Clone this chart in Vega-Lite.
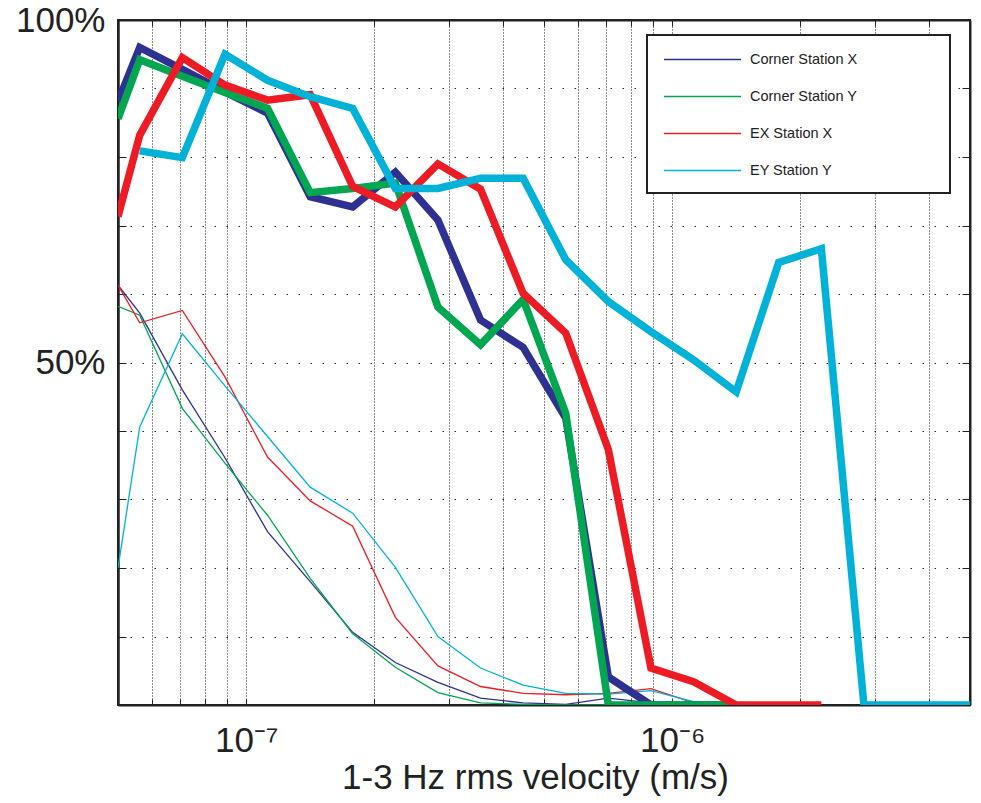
{
  "$schema": "https://vega.github.io/schema/vega-lite/v6.json",
  "autosize": "none",
  "width": 852,
  "height": 685,
  "padding": {"left": 118, "top": 20, "right": 11, "bottom": 98},
  "background": "white",
  "config": {
    "font": "Liberation Sans",
    "view": {"stroke": "#222", "strokeWidth": 2},
    "legend": {
      "labelFont": "Liberation Sans",
      "labelFontSize": 14.5,
      "labelColor": "#222",
      "symbolType": "M-5,0H5M29.6,0L29.6,0",
      "symbolStrokeWidth": 1.6,
      "strokeColor": "#222",
      "strokeWidth": 2,
      "fillColor": "white",
      "padding": 16,
      "rowPadding": 22,
      "labelOffset": 39,
      "symbolOffset": 31
    }
  },
  "data": {
    "values": [
      {"s": "Corner Station X", "w": "thin", "v": 5e-8, "p": 0.613},
      {"s": "Corner Station X", "w": "thin", "v": 5.623e-8, "p": 0.572},
      {"s": "Corner Station X", "w": "thin", "v": 7.079e-8, "p": 0.460},
      {"s": "Corner Station X", "w": "thin", "v": 8.913e-8, "p": 0.361},
      {"s": "Corner Station X", "w": "thin", "v": 1.122e-7, "p": 0.253},
      {"s": "Corner Station X", "w": "thin", "v": 1.413e-7, "p": 0.180},
      {"s": "Corner Station X", "w": "thin", "v": 1.778e-7, "p": 0.106},
      {"s": "Corner Station X", "w": "thin", "v": 2.239e-7, "p": 0.062},
      {"s": "Corner Station X", "w": "thin", "v": 2.818e-7, "p": 0.033},
      {"s": "Corner Station X", "w": "thin", "v": 3.548e-7, "p": 0.010},
      {"s": "Corner Station X", "w": "thin", "v": 4.467e-7, "p": 0.003},
      {"s": "Corner Station X", "w": "thin", "v": 5.623e-7, "p": 0.001},
      {"s": "Corner Station X", "w": "thin", "v": 7.079e-7, "p": 0.010},
      {"s": "Corner Station X", "w": "thin", "v": 8.913e-7, "p": 0.003},
      {"s": "Corner Station X", "w": "thin", "v": 1.122e-6, "p": 0},
      {"s": "Corner Station X", "w": "thin", "v": 1.413e-6, "p": 0},

      {"s": "Corner Station Y", "w": "thin", "v": 5e-8, "p": 0.582},
      {"s": "Corner Station Y", "w": "thin", "v": 5.623e-8, "p": 0.569},
      {"s": "Corner Station Y", "w": "thin", "v": 7.079e-8, "p": 0.433},
      {"s": "Corner Station Y", "w": "thin", "v": 8.913e-8, "p": 0.353},
      {"s": "Corner Station Y", "w": "thin", "v": 1.122e-7, "p": 0.277},
      {"s": "Corner Station Y", "w": "thin", "v": 1.413e-7, "p": 0.185},
      {"s": "Corner Station Y", "w": "thin", "v": 1.778e-7, "p": 0.104},
      {"s": "Corner Station Y", "w": "thin", "v": 2.239e-7, "p": 0.055},
      {"s": "Corner Station Y", "w": "thin", "v": 2.818e-7, "p": 0.018},
      {"s": "Corner Station Y", "w": "thin", "v": 3.548e-7, "p": 0.003},
      {"s": "Corner Station Y", "w": "thin", "v": 4.467e-7, "p": 0.001},
      {"s": "Corner Station Y", "w": "thin", "v": 5.623e-7, "p": 0},
      {"s": "Corner Station Y", "w": "thin", "v": 7.079e-7, "p": 0},
      {"s": "Corner Station Y", "w": "thin", "v": 8.913e-7, "p": 0},
      {"s": "Corner Station Y", "w": "thin", "v": 1.122e-6, "p": 0},
      {"s": "Corner Station Y", "w": "thin", "v": 1.413e-6, "p": 0},

      {"s": "EX Station X", "w": "thin", "v": 5e-8, "p": 0.613},
      {"s": "EX Station X", "w": "thin", "v": 5.623e-8, "p": 0.558},
      {"s": "EX Station X", "w": "thin", "v": 7.079e-8, "p": 0.576},
      {"s": "EX Station X", "w": "thin", "v": 8.913e-8, "p": 0.479},
      {"s": "EX Station X", "w": "thin", "v": 1.122e-7, "p": 0.362},
      {"s": "EX Station X", "w": "thin", "v": 1.413e-7, "p": 0.298},
      {"s": "EX Station X", "w": "thin", "v": 1.778e-7, "p": 0.261},
      {"s": "EX Station X", "w": "thin", "v": 2.239e-7, "p": 0.128},
      {"s": "EX Station X", "w": "thin", "v": 2.818e-7, "p": 0.057},
      {"s": "EX Station X", "w": "thin", "v": 3.548e-7, "p": 0.027},
      {"s": "EX Station X", "w": "thin", "v": 4.467e-7, "p": 0.017},
      {"s": "EX Station X", "w": "thin", "v": 5.623e-7, "p": 0.015},
      {"s": "EX Station X", "w": "thin", "v": 7.079e-7, "p": 0.017},
      {"s": "EX Station X", "w": "thin", "v": 8.913e-7, "p": 0.024},
      {"s": "EX Station X", "w": "thin", "v": 1.122e-6, "p": 0.003},
      {"s": "EX Station X", "w": "thin", "v": 1.413e-6, "p": 0},

      {"s": "EY Station Y", "w": "thin", "v": 5e-8, "p": 0.200},
      {"s": "EY Station Y", "w": "thin", "v": 5.623e-8, "p": 0.406},
      {"s": "EY Station Y", "w": "thin", "v": 7.079e-8, "p": 0.542},
      {"s": "EY Station Y", "w": "thin", "v": 8.913e-8, "p": 0.466},
      {"s": "EY Station Y", "w": "thin", "v": 1.122e-7, "p": 0.392},
      {"s": "EY Station Y", "w": "thin", "v": 1.413e-7, "p": 0.318},
      {"s": "EY Station Y", "w": "thin", "v": 1.778e-7, "p": 0.280},
      {"s": "EY Station Y", "w": "thin", "v": 2.239e-7, "p": 0.201},
      {"s": "EY Station Y", "w": "thin", "v": 2.818e-7, "p": 0.100},
      {"s": "EY Station Y", "w": "thin", "v": 3.548e-7, "p": 0.054},
      {"s": "EY Station Y", "w": "thin", "v": 4.467e-7, "p": 0.029},
      {"s": "EY Station Y", "w": "thin", "v": 5.623e-7, "p": 0.017},
      {"s": "EY Station Y", "w": "thin", "v": 7.079e-7, "p": 0.016},
      {"s": "EY Station Y", "w": "thin", "v": 8.913e-7, "p": 0.021},
      {"s": "EY Station Y", "w": "thin", "v": 1.122e-6, "p": 0.005},
      {"s": "EY Station Y", "w": "thin", "v": 1.413e-6, "p": 0},

      {"s": "Corner Station X", "w": "thick", "v": 5e-8, "p": 0.881},
      {"s": "Corner Station X", "w": "thick", "v": 5.623e-8, "p": 0.960},
      {"s": "Corner Station X", "w": "thick", "v": 7.079e-8, "p": 0.928},
      {"s": "Corner Station X", "w": "thick", "v": 8.913e-8, "p": 0.895},
      {"s": "Corner Station X", "w": "thick", "v": 1.122e-7, "p": 0.864},
      {"s": "Corner Station X", "w": "thick", "v": 1.413e-7, "p": 0.742},
      {"s": "Corner Station X", "w": "thick", "v": 1.778e-7, "p": 0.727},
      {"s": "Corner Station X", "w": "thick", "v": 2.239e-7, "p": 0.778},
      {"s": "Corner Station X", "w": "thick", "v": 2.818e-7, "p": 0.708},
      {"s": "Corner Station X", "w": "thick", "v": 3.548e-7, "p": 0.562},
      {"s": "Corner Station X", "w": "thick", "v": 4.467e-7, "p": 0.522},
      {"s": "Corner Station X", "w": "thick", "v": 5.623e-7, "p": 0.419},
      {"s": "Corner Station X", "w": "thick", "v": 7.079e-7, "p": 0.041},
      {"s": "Corner Station X", "w": "thick", "v": 8.913e-7, "p": 0},
      {"s": "Corner Station X", "w": "thick", "v": 1.122e-6, "p": 0},
      {"s": "Corner Station X", "w": "thick", "v": 1.413e-6, "p": 0},

      {"s": "Corner Station Y", "w": "thick", "v": 5e-8, "p": 0.856},
      {"s": "Corner Station Y", "w": "thick", "v": 5.623e-8, "p": 0.942},
      {"s": "Corner Station Y", "w": "thick", "v": 7.079e-8, "p": 0.918},
      {"s": "Corner Station Y", "w": "thick", "v": 8.913e-8, "p": 0.894},
      {"s": "Corner Station Y", "w": "thick", "v": 1.122e-7, "p": 0.871},
      {"s": "Corner Station Y", "w": "thick", "v": 1.413e-7, "p": 0.748},
      {"s": "Corner Station Y", "w": "thick", "v": 1.778e-7, "p": 0.754},
      {"s": "Corner Station Y", "w": "thick", "v": 2.239e-7, "p": 0.762},
      {"s": "Corner Station Y", "w": "thick", "v": 2.818e-7, "p": 0.581},
      {"s": "Corner Station Y", "w": "thick", "v": 3.548e-7, "p": 0.526},
      {"s": "Corner Station Y", "w": "thick", "v": 4.467e-7, "p": 0.592},
      {"s": "Corner Station Y", "w": "thick", "v": 5.623e-7, "p": 0.426},
      {"s": "Corner Station Y", "w": "thick", "v": 7.079e-7, "p": 0},
      {"s": "Corner Station Y", "w": "thick", "v": 8.913e-7, "p": 0},
      {"s": "Corner Station Y", "w": "thick", "v": 1.122e-6, "p": 0},
      {"s": "Corner Station Y", "w": "thick", "v": 1.413e-6, "p": 0},

      {"s": "EX Station X", "w": "thick", "v": 5e-8, "p": 0.713},
      {"s": "EX Station X", "w": "thick", "v": 5.623e-8, "p": 0.832},
      {"s": "EX Station X", "w": "thick", "v": 7.079e-8, "p": 0.945},
      {"s": "EX Station X", "w": "thick", "v": 8.913e-8, "p": 0.905},
      {"s": "EX Station X", "w": "thick", "v": 1.122e-7, "p": 0.883},
      {"s": "EX Station X", "w": "thick", "v": 1.413e-7, "p": 0.891},
      {"s": "EX Station X", "w": "thick", "v": 1.778e-7, "p": 0.757},
      {"s": "EX Station X", "w": "thick", "v": 2.239e-7, "p": 0.727},
      {"s": "EX Station X", "w": "thick", "v": 2.818e-7, "p": 0.790},
      {"s": "EX Station X", "w": "thick", "v": 3.548e-7, "p": 0.753},
      {"s": "EX Station X", "w": "thick", "v": 4.467e-7, "p": 0.601},
      {"s": "EX Station X", "w": "thick", "v": 5.623e-7, "p": 0.543},
      {"s": "EX Station X", "w": "thick", "v": 7.079e-7, "p": 0.373},
      {"s": "EX Station X", "w": "thick", "v": 8.913e-7, "p": 0.054},
      {"s": "EX Station X", "w": "thick", "v": 1.122e-6, "p": 0.034},
      {"s": "EX Station X", "w": "thick", "v": 1.413e-6, "p": 0},
      {"s": "EX Station X", "w": "thick", "v": 1.778e-6, "p": 0},
      {"s": "EX Station X", "w": "thick", "v": 2.239e-6, "p": 0},

      {"s": "EY Station Y", "w": "thick", "v": 5.623e-8, "p": 0.809},
      {"s": "EY Station Y", "w": "thick", "v": 7.079e-8, "p": 0.799},
      {"s": "EY Station Y", "w": "thick", "v": 8.913e-8, "p": 0.950},
      {"s": "EY Station Y", "w": "thick", "v": 1.122e-7, "p": 0.912},
      {"s": "EY Station Y", "w": "thick", "v": 1.413e-7, "p": 0.888},
      {"s": "EY Station Y", "w": "thick", "v": 1.778e-7, "p": 0.871},
      {"s": "EY Station Y", "w": "thick", "v": 2.239e-7, "p": 0.754},
      {"s": "EY Station Y", "w": "thick", "v": 2.818e-7, "p": 0.754},
      {"s": "EY Station Y", "w": "thick", "v": 3.548e-7, "p": 0.769},
      {"s": "EY Station Y", "w": "thick", "v": 4.467e-7, "p": 0.769},
      {"s": "EY Station Y", "w": "thick", "v": 5.623e-7, "p": 0.650},
      {"s": "EY Station Y", "w": "thick", "v": 7.079e-7, "p": 0.589},
      {"s": "EY Station Y", "w": "thick", "v": 8.913e-7, "p": 0.545},
      {"s": "EY Station Y", "w": "thick", "v": 1.122e-6, "p": 0.504},
      {"s": "EY Station Y", "w": "thick", "v": 1.413e-6, "p": 0.457},
      {"s": "EY Station Y", "w": "thick", "v": 1.778e-6, "p": 0.646},
      {"s": "EY Station Y", "w": "thick", "v": 2.239e-6, "p": 0.666},
      {"s": "EY Station Y", "w": "thick", "v": 2.818e-6, "p": 0},
      {"s": "EY Station Y", "w": "thick", "v": 3.548e-6, "p": 0},
      {"s": "EY Station Y", "w": "thick", "v": 4.467e-6, "p": 0},
      {"s": "EY Station Y", "w": "thick", "v": 5e-6, "p": 0}
    ]
  },
  "layer": [
    {
      "transform": [{"filter": "datum.w == 'thin'"}],
      "mark": {"type": "line", "strokeWidth": 1.3, "clip": true},
      "encoding": {
        "x": {
          "field": "v", "type": "quantitative",
          "scale": {"type": "log", "domain": [5e-8, 5e-6], "nice": false},
          "axis": {
            "orient": "bottom",
            "values": [6e-8, 7e-8, 8e-8, 9e-8, 1e-7, 2e-7, 3e-7, 4e-7, 5e-7, 6e-7, 7e-7, 8e-7, 9e-7, 1e-6, 2e-6, 3e-6, 4e-6],
            "labelExpr": "abs(log(datum.value)/LN10 + 7) < 0.001 ? '10⁻⁷' : (abs(log(datum.value)/LN10 + 6) < 0.001 ? '10⁻⁶' : '')",
            "labelFontSize": 35, "labelColor": "#222", "labelFont": "Liberation Sans",
            "labelPadding": 24, "labelOverlap": false, "labelFlush": false, "labelDx": 8,
            "title": "1-3 Hz rms velocity (m/s)",
            "titleFontSize": 35, "titleFontWeight": "normal", "titleColor": "#222", "titleFont": "Liberation Sans",
            "titlePadding": 2, "titleX": 417,
            "tickSize": -6, "tickColor": "#222", "tickWidth": 1,
            "domainColor": "#222", "domainWidth": 2,
            "grid": true, "gridColor": "#000", "gridDash": [1, 2], "gridOpacity": 0.9, "gridWidth": 1
          }
        },
        "y": {
          "field": "p", "type": "quantitative",
          "scale": {"domain": [0, 1], "nice": false},
          "axis": {
            "orient": "left",
            "values": [0, 0.1, 0.2, 0.3, 0.4, 0.5, 0.6, 0.7, 0.8, 0.9, 1],
            "labelExpr": "datum.value == 1 ? '100%' : (datum.value == 0.5 ? '50%' : '')",
            "labelFontSize": 35, "labelColor": "#222", "labelFont": "Liberation Sans",
            "labelPadding": 21, "labelOverlap": false, "labelFlush": false,
            "title": null,
            "tickSize": -8, "tickColor": "#222", "tickWidth": 1,
            "domainColor": "#222", "domainWidth": 2.5,
            "grid": true, "gridColor": "#000", "gridDash": [1.5, 10.5], "gridOpacity": 0.85, "gridWidth": 1
          }
        },
        "color": {
          "field": "s", "type": "nominal",
          "scale": {"domain": ["Corner Station X", "Corner Station Y", "EX Station X", "EY Station Y"], "range": ["#2E3192", "#00A650", "#ED1C24", "#00B2D8"]},
          "legend": {"title": null, "orient": "none", "legendX": 529, "legendY": 15, "symbolSize": 237, "symbolStrokeWidth": 1.6}
        }
      }
    },
    {
      "transform": [{"filter": "datum.w == 'thick'"}],
      "mark": {"type": "line", "strokeWidth": 7.5, "clip": true, "strokeJoin": "miter"},
      "encoding": {
        "x": {
          "field": "v", "type": "quantitative",
          "scale": {"type": "log", "domain": [5e-8, 5e-6], "nice": false},
          "axis": {
            "orient": "top",
            "values": [6e-8, 7e-8, 8e-8, 9e-8, 1e-7, 2e-7, 3e-7, 4e-7, 5e-7, 6e-7, 7e-7, 8e-7, 9e-7, 1e-6, 2e-6, 3e-6, 4e-6],
            "labels": false, "title": null, "grid": false,
            "tickSize": -6, "tickColor": "#222", "tickWidth": 1,
            "domainColor": "#222", "domainWidth": 2
          }
        },
        "y": {
          "field": "p", "type": "quantitative",
          "scale": {"domain": [0, 1], "nice": false},
          "axis": {
            "orient": "right",
            "values": [0, 0.1, 0.2, 0.3, 0.4, 0.5, 0.6, 0.7, 0.8, 0.9, 1],
            "labels": false, "title": null, "grid": false,
            "tickSize": -8, "tickColor": "#222", "tickWidth": 1,
            "domainColor": "#222", "domainWidth": 2
          }
        },
        "color": {
          "field": "s", "type": "nominal",
          "scale": {"domain": ["Corner Station X", "Corner Station Y", "EX Station X", "EY Station Y"], "range": ["#2E3192", "#00A650", "#ED1C24", "#00B2D8"]},
          "legend": {"title": null, "orient": "none", "legendX": 529, "legendY": 15, "symbolSize": 237, "symbolStrokeWidth": 1.6}
        }
      }
    }
  ],
  "resolve": {"axis": {"x": "independent", "y": "independent"}}
}
